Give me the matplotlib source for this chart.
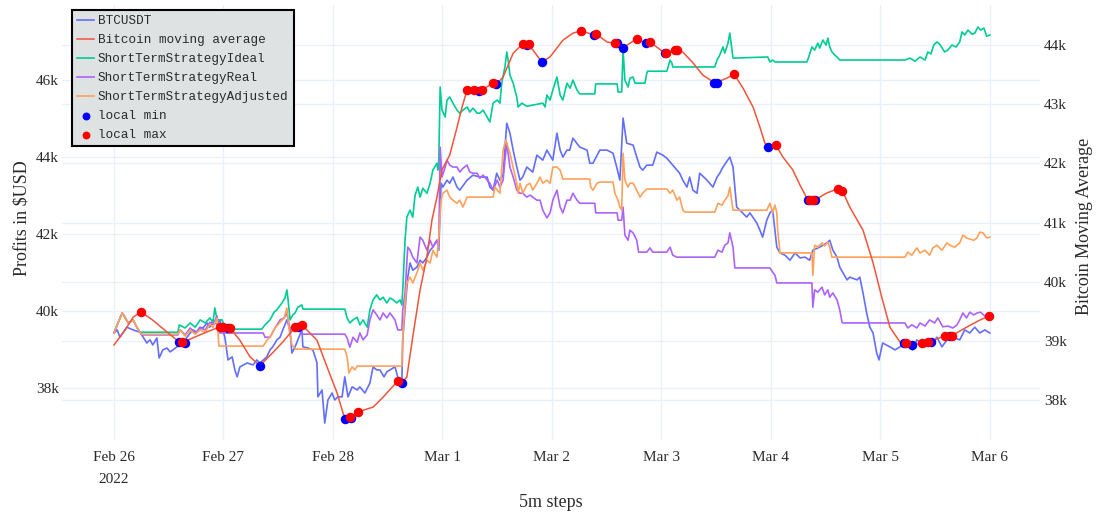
import pandas as pd
import matplotlib
matplotlib.use("Agg")
import matplotlib.pyplot as plt
from matplotlib.ticker import FuncFormatter, MultipleLocator

# (hours since 2022-02-26 00:00, value in USD)
btc = [(0.0,39430),(0.7,39510),(1.3,39320),(2.8,39580),(4.2,39510),(5.7,39450),(6.4,39320),(7.2,39170),(7.9,39250),(8.5,39120),
       (9.4,39300),(9.9,38780),(10.7,38990),(11.6,39040),(12.3,38940),(12.9,38990),(13.8,39070),(14.5,39200),(15.1,39170),(16.0,39320),
       (16.7,39430),(17.3,39510),(18.2,39450),(18.8,39580),(19.5,39560),(20.4,39690),(21.0,39580),(21.7,39770),(22.6,39640),(23.2,39770),
       (24.3,39320),(25.0,38730),(25.9,38810),(26.5,38470),(27.0,38290),(27.6,38550),(29.2,38650),(30.5,38600),(31.3,38730),(32.0,38650),
       (33.5,38810),(34.2,38990),(34.8,39070),(35.7,39250),(36.4,39320),(37.0,39510),(37.9,39770),(38.6,39510),(39.0,38910),(39.7,39070),
       (40.3,39250),(41.2,39510),(41.4,39070),(42.5,39040),(43.6,38990),(44.5,38650),(44.7,37770),(45.6,37950),(46.2,37090),(46.9,37690),
       (47.8,37870),(48.4,37690),(49.1,37770),(50.0,37770),(50.6,38290),(51.3,37770),(52.2,38030),(53.3,37950),(53.9,38030),(55.0,37870),
       (56.1,38130),(56.8,38550),(57.6,38470),(58.3,38470),(59.2,38290),(59.8,38420),(60.5,38470),(61.6,38550),(62.2,38290),(63.1,38130),
       (63.3,39250),(63.8,40030),(64.4,40880),(64.9,41250),(65.5,41060),(66.4,41140),(67.1,41320),(67.7,41250),(68.6,41400),(69.3,41580),
       (69.9,41660),(70.8,41840),(71.2,41580),(71.7,43320),(72.1,43220),(73.0,43400),(73.6,43320),(74.3,43480),(75.2,43220),(75.8,43140),
       (77.4,43400),(78.7,43530),(80.2,43480),(81.8,43480),(82.4,43220),(83.1,43140),(83.9,43580),(84.6,43400),(85.3,43530),(86.1,44880),
       (86.8,44620),(87.5,44180),(88.3,43740),(89.0,43400),(89.6,43480),(90.5,43740),(91.8,43610),(92.7,44050),(94.0,43920),(94.9,44180),
       (96.2,43920),(97.1,44620),(97.8,44180),(98.4,44000),(99.3,44180),(99.9,44180),(100.6,44490),(102.1,44260),(103.7,44180),(104.3,43840),
       (105.0,43840),(106.5,44180),(108.1,44180),(109.4,44100),(110.2,43740),(110.9,43400),(111.6,45010),(112.4,44360),(113.8,44310),(114.6,44000),
       (115.3,43740),(115.9,43660),(116.8,43790),(118.1,43790),(119.0,44130),(120.3,44050),(121.2,43970),(122.5,43790),(124.0,43580),(124.7,43400),
       (125.6,43220),(126.2,43480),(126.9,43140),(127.8,43060),(128.4,43580),(130.0,43400),(131.3,43220),(132.2,43480),(132.8,43580),(133.5,43740),
       (135.0,44000),(135.7,43740),(136.5,42700),(137.2,42620),(138.7,42440),(139.4,42550),(140.9,42290),(141.6,42100),(142.2,41920),(143.1,42360),
       (143.8,42550),(144.4,42620),(145.3,41660),(146.0,41510),(147.1,41450),(148.2,41320),(149.3,41510),(150.4,41380),(151.5,41400),(152.5,41320),
       (153.2,41580),(154.7,41660),(156.3,41770),(156.9,41840),(157.6,41580),(158.5,41400),(159.1,41140),(160.7,40810),(161.3,40880),(162.9,40810),
       (163.5,40880),(164.2,40470),(165.0,39950),(165.7,39580),(166.4,39430),(167.2,38910),(167.7,38730),(168.5,39170),(170.1,39070),(171.2,38990),
       (172.3,39070),(173.4,39170),(175.1,38990),(176.0,39250),(177.8,39070),(179.5,39170),(180.4,39320),(181.5,39070),(182.6,39250),(183.9,39320),
       (185.4,39250),(186.5,39510),(187.6,39430),(188.7,39580),(189.8,39430),(190.9,39510),(192.0,39430)]

moving_avg = [(0.0,38930),(2.4,39180),(4.2,39400),(5.9,39490),(8.5,39350),(11.6,39150),(13.8,39010),(14.7,38960),(18.8,39100),(22.6,39220),
              (23.7,39230),(25.4,39220),(27.6,39010),(29.8,38730),(32.0,38580),(34.8,38800),(37.0,38980),(39.7,39230),(41.2,39270),(44.5,39010),
              (46.7,38560),(48.9,38120),(50.6,37680),(51.7,37710),(53.5,37800),(56.8,37880),(59.0,38050),(62.2,38320),(63.1,38290),(64.2,38390),
              (65.5,39070),(67.1,39860),(68.6,40420),(69.7,41040),(70.8,41430),(71.9,41890),(73.6,42140),(75.2,42610),(76.3,42950),(77.4,43240),
              (78.9,43240),(80.0,43220),(80.7,43240),(83.1,43360),(83.9,43340),(85.3,43460),(87.5,43860),(89.6,44020),(90.7,44000),(91.8,43920),
              (93.8,43710),(95.6,43800),(98.4,44080),(100.6,44200),(102.4,44240),(105.2,44170),(105.6,44190),(108.1,44050),(109.8,44030),(111.6,43950),
              (113.1,44030),(114.6,44100),(116.6,44030),(117.5,44050),(120.8,43860),(123.0,43920),(124.7,43880),(126.9,43700),(129.1,43490),(131.7,43360),
              (134.4,43440),(135.9,43510),(137.9,43270),(140.1,42950),(141.6,42610),(142.7,42340),(143.3,42280),(145.1,42310),(146.6,42110),(148.8,41890),
              (150.4,41630),(152.1,41380),(153.6,41380),(156.3,41500),(158.7,41570),(159.6,41550),(161.3,41260),(164.2,40870),(166.4,40320),(168.3,39740),
              (170.1,39230),(172.3,38980),(173.6,38960),(174.9,38930),(177.1,38960),(178.4,38980),(182.1,39080),(183.5,39080),(186.9,39230),(189.8,39350),
              (191.8,39420)]

ideal = [(0.0,39430),(0.7,39640),(1.8,39950),(2.4,39840),(3.1,39690),(4.2,39770),(5.0,39580),(5.7,39450),(6.1,39450),(14.0,39450),
         (14.3,39640),(15.6,39560),(16.7,39690),(17.8,39580),(18.9,39770),(20.0,39690),(21.0,39820),(21.7,39710),(22.1,40080),(22.6,39770),
         (23.7,39770),(24.3,39560),(25.0,39530),(32.4,39530),(33.1,39640),(34.2,39770),(35.1,39970),(35.7,40030),(36.8,40210),(37.5,40340),
         (37.9,40550),(38.1,40360),(38.6,39770),(39.2,39900),(39.7,39950),(40.3,40100),(41.2,40160),(41.4,40050),(50.6,40050),(51.1,39820),
         (51.7,39690),(52.4,39770),(53.3,39840),(53.9,39640),(54.6,39770),(55.5,39580),(56.1,40030),(56.8,40290),(57.6,40420),(58.3,40290),
         (59.0,40360),(59.8,40210),(60.5,40340),(61.2,40290),(62.0,40210),(62.7,40290),(63.1,40160),(63.3,40550),(63.8,41840),(64.2,42440),
         (64.9,42620),(65.5,42440),(66.0,43010),(66.6,43220),(67.1,42960),(67.7,43190),(68.6,43060),(69.3,43320),(69.9,43660),(70.8,43840),
         (71.0,43660),(71.2,43920),(71.5,45820),(71.9,45220),(72.6,45040),(73.0,45480),(73.6,45560),(74.3,45400),(75.2,45220),(75.8,45140),
         (76.5,45220),(77.4,45300),(78.0,45170),(78.7,45270),(79.6,45140),(80.2,45140),(80.9,45220),(81.8,45040),(82.4,44910),(83.1,45400),
         (84.0,45480),(84.6,45400),(85.0,45920),(85.7,46340),(86.1,46730),(86.4,46520),(86.8,46130),(87.5,45920),(88.3,45560),(88.6,45300),
         (89.4,45400),(90.5,45320),(94.0,45400),(94.5,45300),(94.9,45610),(95.6,45480),(96.2,45740),(97.1,46080),(97.8,45610),(98.4,45480),
         (99.3,45920),(100.0,45790),(100.6,46000),(101.5,45740),(102.1,45640),(105.4,45640),(105.6,45900),(110.3,45900),(110.5,45690),(111.3,45690),
         (111.6,46780),(112.0,46000),(112.7,45820),(113.1,46050),(113.8,46080),(114.2,45920),(116.4,45920),(116.8,46180),(117.0,46230),(121.2,46230),
         (121.9,46520),(122.3,46440),(122.5,46340),(131.7,46340),(132.2,46520),(132.8,46650),(133.5,46860),(133.9,46700),(134.6,46960),(135.0,47220),
         (135.7,46570),(143.3,46600),(143.8,46470),(144.4,46520),(144.9,46470),(151.9,46470),(152.3,46600),(153.0,46860),(153.6,46780),(154.3,46960),
         (154.7,46830),(155.4,47040),(156.1,46910),(156.5,47090),(156.9,46860),(157.4,46730),(158.0,46650),(158.5,46600),(159.1,46520),(173.4,46520),
         (174.5,46570),(175.6,46490),(176.7,46600),(177.8,46520),(178.4,46730),(179.1,46680),(179.7,46910),(180.4,46990),(181.0,46930),(182.1,46730),
         (182.8,46780),(183.7,46910),(184.6,46860),(185.4,46990),(185.9,47250),(186.5,47170),(187.2,47300),(188.1,47190),(188.7,47220),(189.4,47380),
         (190.0,47300),(190.7,47350),(191.3,47140),(192.0,47170)]

real = [(0.0,39430),(0.7,39640),(1.8,39950),(2.4,39840),(3.1,39690),(4.2,39770),(5.0,39580),(5.7,39450),(6.1,39380),(14.0,39380),
        (14.5,39510),(15.6,39380),(16.7,39560),(17.8,39430),(18.9,39560),(20.0,39510),(21.0,39710),(21.7,39640),(22.6,39870),(23.2,39430),
        (32.7,39430),(33.1,39320),(34.2,39320),(35.3,39560),(36.4,39770),(37.3,39820),(37.9,39950),(38.6,39510),(39.2,39610),(40.1,39560),
        (40.8,39660),(41.2,39430),(41.4,39400),(50.6,39400),(51.1,39300),(51.7,39060),(52.4,39320),(53.3,39190),(53.9,39430),(54.6,39250),
        (55.5,39380),(56.1,39770),(56.8,40030),(57.6,39900),(58.3,39770),(59.0,39950),(59.8,39820),(60.5,39950),(61.6,39770),(62.2,39510),
        (63.1,39510),(63.3,40030),(63.8,40470),(64.4,41660),(64.9,41580),(65.5,41400),(66.4,41250),(67.1,41920),(67.7,41840),(68.6,41580),
        (69.3,41840),(69.9,41660),(70.8,41840),(71.2,41710),(71.5,44260),(71.9,43480),(72.6,43740),(73.0,43920),(73.6,43790),(74.3,43740),
        (75.2,43740),(75.8,43610),(76.5,43710),(77.4,43790),(78.0,43610),(78.7,43580),(79.6,43580),(80.2,43450),(80.9,43530),(81.8,43400),
        (82.4,43320),(83.1,43140),(84.0,43400),(84.6,43220),(85.3,43400),(85.7,43920),(86.1,44360),(86.8,43740),(87.5,43480),(88.3,43140),
        (89.0,43060),(89.6,43060),(90.5,42960),(91.2,43010),(91.8,42960),(92.7,42880),(93.4,42880),(94.0,42620),(94.9,42420),(95.6,42550),
        (96.2,42880),(97.1,43140),(97.8,42700),(98.4,42550),(99.3,42880),(100.0,42880),(100.6,43060),(101.5,42880),(102.1,42800),(105.4,42800),
        (105.6,42550),(110.3,42550),(110.5,42360),(111.3,42360),(111.6,42700),(112.0,41970),(112.7,41840),(113.1,42100),(113.8,42030),(114.6,41840),
        (115.0,41530),(116.8,41530),(117.5,41640),(118.1,41530),(121.2,41530),(121.9,41660),(122.5,41450),(123.4,41400),(131.7,41400),(132.4,41580),
        (133.3,41530),(133.9,41710),(134.6,41770),(135.0,42030),(135.7,41660),(136.1,41120),(143.8,41120),(144.4,41010),(144.9,40930),(145.3,40730),
        (153.0,40730),(153.2,40100),(153.6,40550),(154.3,40490),(155.2,40620),(155.8,40420),(156.5,40550),(156.9,40360),(157.6,40470),(158.5,40290),
        (159.1,40030),(159.6,39710),(159.8,39690),(173.4,39690),(174.0,39560),(174.9,39640),(176.0,39560),(176.7,39690),(177.8,39610),(178.8,39770),
        (179.9,39690),(180.6,39820),(181.7,39590),(182.8,39610),(183.9,39560),(184.8,39640),(185.4,39770),(186.1,39950),(186.9,39820),(187.6,39970),
        (188.5,39900),(189.2,39950),(190.0,39970),(190.9,39870),(192.0,39900)]

adjusted = [(0.0,39430),(0.7,39640),(1.8,39950),(2.4,39840),(3.1,39690),(4.2,39770),(5.0,39580),(5.7,39450),(6.1,39400),(14.0,39400),
            (14.5,39510),(15.6,39350),(16.7,39510),(17.8,39400),(18.9,39510),(20.0,39450),(21.0,39660),(21.7,39580),(22.6,39820),(23.0,39090),
            (32.7,39090),(33.6,39250),(34.5,39380),(35.3,39560),(36.4,39710),(37.3,39820),(37.9,40080),(38.4,39510),(39.0,39120),(39.9,39010),
            (50.6,39010),(51.1,38810),(51.5,38390),(52.2,38550),(52.8,38470),(53.3,38570),(63.1,38570),(63.3,39320),(63.8,40210),(64.2,40730),
            (64.9,40880),(65.5,40730),(66.4,40990),(67.1,41250),(67.7,41060),(68.6,41320),(69.3,41250),(69.9,41580),(70.8,41400),(71.2,41920),
            (71.7,42880),(72.1,43060),(73.0,43140),(73.6,42960),(74.3,42880),(75.2,42800),(75.8,42880),(76.5,42700),(77.4,42960),(83.1,42960),
            (83.5,43220),(84.6,43060),(85.3,44180),(85.9,44440),(86.8,44100),(87.5,43740),(88.3,43320),(88.6,43060),(89.0,43320),(89.6,43060),
            (90.5,43270),(91.2,43320),(91.8,43140),(92.7,43320),(93.4,43480),(94.0,43320),(94.9,43400),(95.6,43320),(96.2,43740),(97.1,43740),
            (97.8,43660),(98.4,43430),(104.3,43430),(104.5,43220),(105.0,43140),(105.9,43320),(106.5,43350),(109.4,43350),(109.8,43060),(110.5,42880),
            (110.9,42700),(111.3,42620),(111.6,44100),(112.0,43400),(112.7,43220),(113.1,43320),(113.8,43320),(114.6,43140),(115.3,42960),(115.9,43060),
            (116.8,43170),(121.2,43170),(121.9,43060),(122.5,43140),(123.4,42880),(124.0,42960),(124.7,42620),(125.2,42570),(131.7,42570),(132.4,42800),
            (133.3,42750),(133.9,42880),(134.6,42990),(135.0,43220),(135.7,42620),(143.1,42620),(143.8,42800),(144.4,42550),(144.9,42750),(145.3,42550),
            (145.5,42100),(146.0,41510),(153.0,41510),(153.2,40930),(153.6,41710),(154.3,41660),(155.2,41770),(155.8,41690),(156.5,41790),(156.9,41660),
            (157.4,41400),(173.4,41400),(174.0,41530),(174.9,41450),(176.0,41640),(176.7,41510),(177.8,41580),(178.8,41450),(179.5,41640),(180.4,41710),
            (181.5,41580),(182.6,41770),(183.2,41710),(184.3,41660),(185.4,41770),(186.1,41970),(186.9,41900),(187.6,41870),(188.5,41840),(189.2,41900),
            (189.8,42050),(190.5,42030),(191.3,41900),(192.0,41920)]

local_min = [(14.2,38980),(15.6,38960),(25.0,39220),(32.0,38580),(40.3,39230),(50.6,37680),(51.9,37700),(63.1,38290),(80.0,43220),(83.7,43340),
             (90.5,44000),(93.8,43710),(105.2,44170),(110.2,44030),(111.6,43950),(116.6,44030),(120.8,43860),(131.5,43360),(132.2,43360),(143.3,42280),
             (152.1,41380),(153.6,41380),(173.2,38960),(174.9,38930),(179.1,38980),(183.2,39080)]

local_max = [(5.9,39490),(14.9,38980),(23.2,39230),(23.9,39230),(25.4,39220),(39.7,39230),(41.2,39270),(51.7,37710),(53.5,37800),(62.2,38320),
             (77.4,43240),(78.9,43240),(80.7,43240),(83.1,43360),(89.6,44020),(91.0,44020),(102.4,44240),(105.6,44190),(109.8,44030),(114.6,44100),
             (117.5,44050),(121.0,43860),(123.0,43920),(123.4,43920),(135.9,43510),(145.1,42310),(152.5,41380),(153.2,41380),(158.7,41570),(159.6,41530),
             (173.6,38960),(177.1,38960),(178.4,38980),(182.1,39080),(183.7,39080),(191.8,39420)]

START = pd.Timestamp("2022-02-26")


def unpack(pairs):
    hours = [p[0] for p in pairs]
    vals = [p[1] for p in pairs]
    return START + pd.to_timedelta(hours, unit="h"), vals


SERIF = "Liberation Serif"
MONO = "Liberation Mono"
GRID = "#EBF0F8"
TXT = "#2a2a2a"

fig = plt.figure(figsize=(10.96, 5.16), dpi=100)
pos = [62 / 1096, 1 - 440 / 516, 978 / 1096, 435 / 516]
ax = fig.add_axes(pos)
ax_grid = ax.twinx()   # only carries the right-axis gridlines, below everything
ax2 = ax.twinx()       # moving average + extrema
ax_grid.set_zorder(0)
ax.set_zorder(1)
ax2.set_zorder(2)
ax_grid.patch.set_visible(True)
ax_grid.patch.set_facecolor("white")
ax.patch.set_visible(False)

# left axis: price and strategies
t, v = unpack(btc)
ax.plot(t, v, color="#636EFA", lw=1.2, label="BTCUSDT")
t, v = unpack(ideal)
ax.plot(t, v, color="#00CC96", lw=1.2, label="ShortTermStrategyIdeal")
t, v = unpack(real)
ax.plot(t, v, color="#AB63FA", lw=1.2, label="ShortTermStrategyReal")
t, v = unpack(adjusted)
ax.plot(t, v, color="#FFA15A", lw=1.2, label="ShortTermStrategyAdjusted")

# right axis: moving average with local extrema
t, v = unpack(moving_avg)
ax2.plot(t, v, color="#EF553B", lw=1.1, label="Bitcoin moving average")
t, v = unpack(local_min)
ax2.scatter(t, v, s=34, color="blue", zorder=3, label="local min")
t, v = unpack(local_max)
ax2.scatter(t, v, s=34, color="red", zorder=4, label="local max")

xmin = START - pd.Timedelta(hours=11.4)
xmax = START + pd.Timedelta(hours=203)
ax.set_xlim(xmin, xmax)
ax.set_ylim(36650, 47950)
ax2.set_ylim(37324, 44676)
ax_grid.set_ylim(37324, 44676)

kfmt = FuncFormatter(lambda x, p: f"{x / 1000:.0f}k")
ax.yaxis.set_major_locator(MultipleLocator(2000))
ax.yaxis.set_major_formatter(kfmt)
ax2.yaxis.set_major_locator(MultipleLocator(1000))
ax2.yaxis.set_major_formatter(kfmt)
ax_grid.yaxis.set_major_locator(MultipleLocator(1000))

days = pd.date_range("2022-02-26", "2022-03-06", freq="D")
ax.set_xticks(days)
ax.set_xticklabels([d.strftime("%b %-d") + ("\n2022" if i == 0 else "") for i, d in enumerate(days)])

ax.grid(True, color=GRID, lw=1.0)
ax_grid.grid(True, axis="y", color=GRID, lw=1.0)
ax_grid.tick_params(axis="y", length=0, labelright=False)

for a in (ax, ax2, ax_grid):
    for s in a.spines.values():
        s.set_visible(False)

ax.tick_params(axis="y", length=0, pad=2, labelsize=11, labelcolor=TXT)
ax.tick_params(axis="x", length=0, pad=8, labelsize=11, labelcolor=TXT)
ax2.tick_params(axis="y", length=0, pad=3, labelsize=11, labelcolor=TXT)
for lab in ax.get_xticklabels() + ax.get_yticklabels() + ax2.get_yticklabels():
    lab.set_fontfamily(SERIF)
    lab.set_linespacing(1.9)

ax.set_xlabel("5m steps", fontsize=13, fontfamily=SERIF, color=TXT)
ax.xaxis.set_label_coords(0.5, -0.125)
ax.set_ylabel("Profits in $USD", fontsize=13, fontfamily=SERIF, color=TXT)
ax.yaxis.set_label_coords(-0.032, 0.51)
ax2.set_ylabel("Bitcoin Moving Average", fontsize=13, fontfamily=SERIF, color=TXT)
ax2.yaxis.set_label_coords(1.037, 0.49)

h1, l1 = ax.get_legend_handles_labels()
h2, l2 = ax2.get_legend_handles_labels()
handles = [h1[0], h2[0], h1[1], h1[2], h1[3], h2[1], h2[2]]
labels = [l1[0], l2[0], l1[1], l1[2], l1[3], l2[1], l2[2]]
leg = ax2.legend(handles, labels, loc="upper left", bbox_to_anchor=(72 / 1096, 1 - 10 / 516),
                 bbox_transform=fig.transFigure, borderaxespad=0, prop={"family": MONO, "size": 9.1},
                 handlelength=1.35, handletextpad=0.28, labelspacing=0.55, borderpad=0.42,
                 fancybox=False, framealpha=1, facecolor="#DEE2E3", edgecolor="black", markerscale=0.8)
leg.get_frame().set_linewidth(1.5)
for txt in leg.get_texts():
    txt.set_color(TXT)

fig.savefig("out.png", dpi=100)
